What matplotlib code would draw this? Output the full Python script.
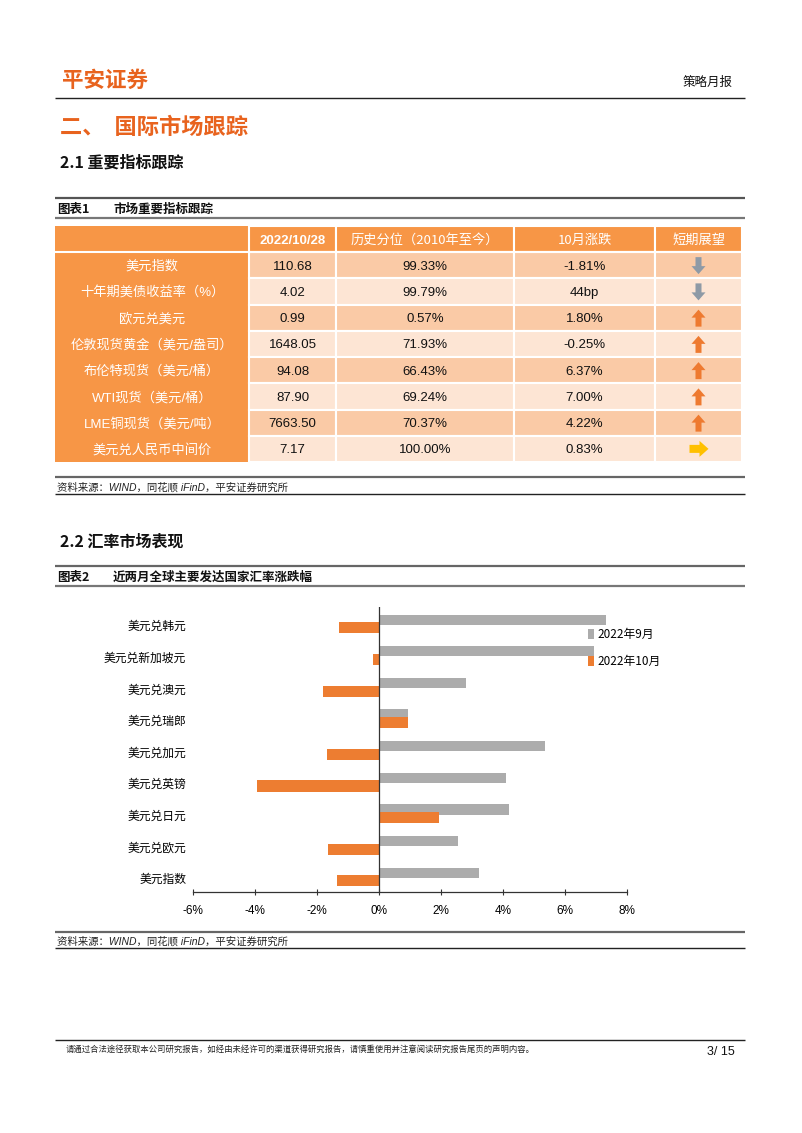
import matplotlib
matplotlib.use("Agg")
import matplotlib.pyplot as plt
from matplotlib.patches import Rectangle, FancyArrow
import numpy as np

plt.rcParams['font.family'] = ['Noto Sans CJK SC', 'DejaVu Sans']

# ---------------- data ----------------
table_header = ['', '2022/10/28', '历史分位（2010年至今）', '10月涨跌', '短期展望']
table_names = ['美元指数', '十年期美债收益率（%）', '欧元兑美元', '伦敦现货黄金（美元/盎司）',
               '布伦特现货（美元/桶）', 'WTI现货（美元/桶）', 'LME铜现货（美元/吨）', '美元兑人民币中间价']
table_price = ['110.68', '4.02', '0.99', '1648.05', '94.08', '87.90', '7663.50', '7.17']
table_pctile = ['99.33%', '99.79%', '0.57%', '71.93%', '66.43%', '69.24%', '70.37%', '100.00%']
table_change = ['-1.81%', '44bp', '1.80%', '-0.25%', '6.37%', '7.00%', '4.22%', '0.83%']
table_outlook = ['down', 'down', 'up', 'up', 'up', 'up', 'up', 'right']

fx_categories = ['美元兑韩元', '美元兑新加坡元', '美元兑澳元', '美元兑瑞郎', '美元兑加元',
                 '美元兑英镑', '美元兑日元', '美元兑欧元', '美元指数']
fx_sep = [7.31, 6.92, 2.82, 0.94, 5.36, 4.09, 4.19, 2.56, 3.22]
fx_oct = [-1.30, -0.20, -1.82, 0.95, -1.69, -3.92, 1.94, -1.65, -1.36]
series_names = ['2022年9月', '2022年10月']
x_ticks = [-6, -4, -2, 0, 2, 4, 6, 8]

# ---------------- page ----------------
W, H = 802, 1133
fig = plt.figure(figsize=(W / 100, H / 100), dpi=100)
page = fig.add_axes([0, 0, 1, 1])
page.set_xlim(0, W)
page.set_ylim(H, 0)
page.axis('off')

ORANGE_TXT = '#E8631E'
T_ORANGE = '#F79646'
T_DARK = '#FACAA6'
T_LIGHT = '#FDE5D4'
ARIAL = ['Liberation Sans', 'Noto Sans CJK SC']
ARIAL_IT = ['Liberation Sans', 'Noto Sans CJK SC']

def hline(y, x0=55, x1=745, lw=1.0, c='#222222'):
    page.plot([x0, x1], [y, y], color=c, lw=lw, solid_capstyle='butt')

# header
page.text(62, 80, '平安证券', fontsize=15.5, fontweight='bold', color=ORANGE_TXT, va='center', ha='left')
page.text(733, 82, '策略月报', fontsize=9, color='#111111', va='center', ha='right')
hline(98, lw=1.0)
page.text(60, 127, '二、  国际市场跟踪', fontsize=16, fontweight='bold', color=ORANGE_TXT, va='center')
page.text(60, 163, '2.1 重要指标跟踪', fontsize=11.5, fontweight='bold', color='#111111', va='center')

# table 1 title
hline(198, lw=1.6, c='#555555')
page.text(57, 209, '图表1', fontsize=9, fontweight='bold', color='#111111', va='center')
page.text(113, 209, '市场重要指标跟踪', fontsize=9, fontweight='bold', color='#111111', va='center')
hline(218, lw=1.6, c='#777777')

# table
col_x = [55, 249, 336, 514, 655, 742]
head_top, head_bot = 226, 252
row_h = 26.25
n_rows = len(table_names)
table_bot = head_bot + row_h * n_rows
dy = 1.5  # text baseline nudge

page.add_patch(Rectangle((col_x[0], head_top), col_x[1] - col_x[0], table_bot - head_top,
                         facecolor=T_ORANGE, edgecolor='none'))
for j in range(1, 5):
    page.add_patch(Rectangle((col_x[j], head_top), col_x[j + 1] - col_x[j], head_bot - head_top,
                             facecolor=T_ORANGE, edgecolor='white', lw=1.5))
for i in range(n_rows):
    y0 = head_bot + i * row_h
    fc = T_DARK if i % 2 == 0 else T_LIGHT
    for j in range(1, 5):
        page.add_patch(Rectangle((col_x[j], y0), col_x[j + 1] - col_x[j], row_h,
                                 facecolor=fc, edgecolor='white', lw=1.5))
page.plot([col_x[0], col_x[-1]], [head_bot, head_bot], color='white', lw=1.5)

for j in range(1, 5):
    cx = (col_x[j] + col_x[j + 1]) / 2
    cy = (head_top + head_bot) / 2 + dy
    if j == 1:
        page.text(cx, cy, table_header[j], fontsize=9.5, fontweight='bold', color='white',
                  ha='center', va='center', family=ARIAL)
    else:
        page.text(cx, cy, table_header[j], fontsize=9.5, color='white', ha='center', va='center')

for i in range(n_rows):
    cy = head_bot + (i + 0.5) * row_h
    page.text((col_x[0] + col_x[1]) / 2, cy + dy, table_names[i], fontsize=9.5, color='white',
              ha='center', va='center', family=ARIAL)
    for j, vals in zip([1, 2, 3], [table_price, table_pctile, table_change]):
        page.text((col_x[j] + col_x[j + 1]) / 2, cy + dy, vals[i], fontsize=9.5, color='#111111',
                  ha='center', va='center', family=ARIAL)
    ax_c = (col_x[4] + col_x[5]) / 2
    kind = table_outlook[i]
    if kind == 'down':
        page.add_patch(FancyArrow(ax_c, cy - 8, 0, 17, width=6, head_width=14, head_length=8,
                                  length_includes_head=True, color='#8E9AA6', lw=0))
    elif kind == 'up':
        page.add_patch(FancyArrow(ax_c, cy + 9, 0, -17, width=6, head_width=14, head_length=8,
                                  length_includes_head=True, color='#EE7A30', lw=0))
    else:
        page.add_patch(FancyArrow(ax_c - 9, cy, 19, 0, width=8, head_width=16, head_length=9,
                                  length_includes_head=True, color='#FFC000', lw=0))

# source 1
src = '资料来源：WIND，同花顺 iFinD，平安证券研究所'
hline(477, lw=1.6, c='#666666')
page.text(57, 487, src, fontsize=7.5, style='italic', color='#222222', va='center', family=ARIAL_IT)
hline(494, lw=1.0, c='#222222')

# section 2.2
page.text(60, 542, '2.2 汇率市场表现', fontsize=11.5, fontweight='bold', color='#111111', va='center')
hline(566, lw=1.6, c='#666666')
page.text(57, 577, '图表2', fontsize=9, fontweight='bold', color='#111111', va='center')
page.text(113, 577, '近两月全球主要发达国家汇率涨跌幅', fontsize=9, fontweight='bold', color='#111111', va='center')
hline(586, lw=1.6, c='#777777')

# ---------------- chart ----------------
left, right, top, bot = 193, 627, 607, 892
ax = fig.add_axes([left / W, 1 - bot / H, (right - left) / W, (bot - top) / H])
ypos = np.arange(len(fx_categories))
ax.barh(ypos - 0.17, fx_sep, height=0.32, color='#ACACAC', label=series_names[0], zorder=2)
ax.barh(ypos + 0.09, fx_oct, height=0.35, color='#ED7D31', label=series_names[1], zorder=3)
ax.set_xlim(-6, 8)
ax.set_ylim(len(fx_categories) - 0.56, -0.57)
ax.set_xticks(x_ticks)
ax.set_xticklabels([f'{t}%' for t in x_ticks], family=ARIAL, fontsize=8.5)
ax.set_yticks(ypos)
ax.set_yticklabels(fx_categories, fontsize=8.5)
ax.tick_params(axis='y', length=0, pad=5)
ax.tick_params(axis='x', direction='inout', length=5, width=0.8, color='#333333', pad=7)
for s in ['left', 'right', 'top']:
    ax.spines[s].set_visible(False)
ax.spines['bottom'].set_color('#333333')
ax.spines['bottom'].set_linewidth(0.9)
ax.axvline(0, color='#333333', lw=0.9, zorder=4)
ax.patch.set_alpha(0)
ax.legend(loc='upper left', bbox_to_anchor=(588 / W, 1 - 628 / H), bbox_transform=fig.transFigure,
          frameon=False, handlelength=0.5, handleheight=0.9, handletextpad=0.3,
          labelspacing=1.2, fontsize=8.5, borderaxespad=0, borderpad=0)

# source 2
hline(932, lw=1.6, c='#666666')
page.text(57, 941, src, fontsize=7.5, style='italic', color='#222222', va='center', family=ARIAL_IT)
hline(948, lw=1.0, c='#222222')

# footer
hline(1040, lw=1.0, c='#222222')
page.text(66, 1049, '请通过合法途径获取本公司研究报告，如经由未经许可的渠道获得研究报告，请慎重使用并注意阅读研究报告尾页的声明内容。',
          fontsize=6, color='#222222', va='center')
page.text(735, 1052, '3/ 15', fontsize=9, color='#111111', va='center', ha='right', family=ARIAL)

fig.savefig('out.png', dpi=100)
